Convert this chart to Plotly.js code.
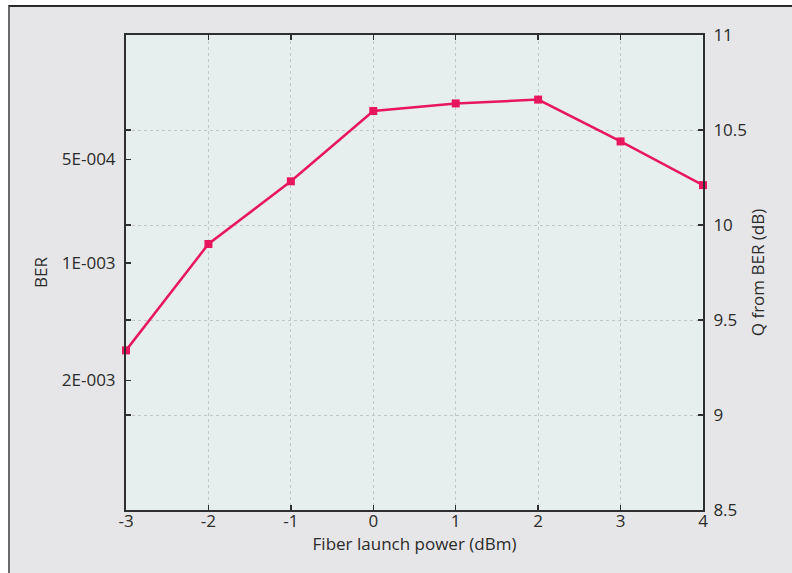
<!DOCTYPE html>
<html><head><meta charset="utf-8">
<script src="https://cdn.plot.ly/plotly-3.0.1.min.js"></script>
<style>
html,body{margin:0;padding:0;background:#fff;}
#wrap{position:absolute;left:8px;top:5px;width:784px;height:568px;border-left:2px solid #6a6a6a;border-top:2px solid #2a2a2a;box-sizing:border-box;background:#e6e6e8;}
#chart{width:782px;height:566px;}
</style></head>
<body><div id="wrap"><div id="chart"></div></div>
<script>
const powers = [-3, -2, -1, 0, 1, 2, 3, 4];
const powerLabels = ['-3', '-2', '-1', '0', '1', '2', '3', '4'];
const qdB = [9.34, 9.90, 10.23, 10.60, 10.64, 10.66, 10.44, 10.21];
const qTicks = [8.5, 9, 9.5, 10, 10.5, 11];
const qLabels = ['8.5', '9', '9.5', '10', '10.5', '11'];
const berLabels = ['2E-003', '1E-003', '5E-004'];
const berValues = [2e-3, 1e-3, 5e-4];

// Q (dB) from BER: Q = 20*log10(sqrt(2)*erfcinv(2*BER)) via inverse normal
function normInv(p){ // inverse of standard normal CDF, Acklam
  const a=[-3.969683028665376e+01,2.209460984245205e+02,-2.759285104469687e+02,1.383577518672690e+02,-3.066479806614716e+01,2.506628277459239e+00];
  const b=[-5.447609879822406e+01,1.615858368580409e+02,-1.556989798598866e+02,6.680131188771972e+01,-1.328068155288572e+01];
  const c=[-7.784894002430293e-03,-3.223964580411365e-01,-2.400758277161838e+00,-2.549732539343734e+00,4.374664141464968e+00,2.938163982698783e+00];
  const d=[7.784695709041462e-03,3.224671290700398e-01,2.445134137142996e+00,3.754408661907416e+00];
  const pl=0.02425;
  let q,r;
  if(p<pl){q=Math.sqrt(-2*Math.log(p));return (((((c[0]*q+c[1])*q+c[2])*q+c[3])*q+c[4])*q+c[5])/((((d[0]*q+d[1])*q+d[2])*q+d[3])*q+1);}
  if(p>1-pl){q=Math.sqrt(-2*Math.log(1-p));return -(((((c[0]*q+c[1])*q+c[2])*q+c[3])*q+c[4])*q+c[5])/((((d[0]*q+d[1])*q+d[2])*q+d[3])*q+1);}
  q=p-0.5;r=q*q;return (((((a[0]*r+a[1])*r+a[2])*r+a[3])*r+a[4])*r+a[5])*q/(((((b[0]*r+b[1])*r+b[2])*r+b[3])*r+b[4])*r+1);
}
const berPos = berValues.map(b => 20*Math.log10(normInv(1-b)));
const leftVals = qTicks.slice(1,5).concat(berPos);
const leftText = qTicks.slice(1,5).map(()=> '').concat(berLabels);

const font = {family:'"Open Sans", "Noto Sans", "Liberation Sans", sans-serif', size:17, color:'#2b2b2b'};
const lineCol = '#2f2f2f';

const data = [
  {x: powers, y: qdB, xaxis:'x', yaxis:'y', type:'scatter', mode:'lines+markers',
   line:{color:'#e8175d', width:2.5}, marker:{symbol:'square', size:8, color:'#e8175d'},
   cliponaxis:false, hoverinfo:'skip'},
  {x: powers, y: qdB, xaxis:'x', yaxis:'y2', type:'scatter', mode:'none', hoverinfo:'skip', showlegend:false}
];
const layout = {
  width:782, height:566,
  margin:{l:116, r:89, t:28, b:63},
  paper_bgcolor:'#e6e6e8', plot_bgcolor:'#e6efee',
  showlegend:false, font: font,
  xaxis:{range:[-3,4], tickvals:powers, ticktext:powerLabels, ticks:'inside', ticklen:5, tickcolor:lineCol, tickwidth:1.5,
         showline:true, linecolor:lineCol, linewidth:2, mirror:'ticks', ticklabelstandoff:-5,
         showgrid:true, gridcolor:'#c4c6c6', griddash:'dot', gridwidth:1, zeroline:false,
         tickfont:font, title:{text:'Fiber launch power (dBm)', font:font, standoff:0}},
  yaxis:{range:[8.5,11], tickvals:leftVals, ticktext:leftText, ticks:'inside', ticklen:5, tickcolor:lineCol, tickwidth:1.5,
         showline:true, linecolor:lineCol, linewidth:2, showgrid:false, zeroline:false, ticklabelstandoff:5,
         tickfont:font, title:{text:'BER', font:font, standoff:10}},
  yaxis2:{range:[8.5,11], overlaying:'y', side:'right', tickvals:qTicks, ticktext:qLabels,
         ticks:'inside', ticklen:5, tickcolor:lineCol, tickwidth:1.5,
         showline:true, linecolor:lineCol, linewidth:2, ticklabelstandoff:5,
         showgrid:true, gridcolor:'#c4c6c6', griddash:'dot', gridwidth:1, zeroline:false,
         tickfont:font, title:{text:'Q from BER (dB)', font:font, standoff:6}}
};
Plotly.newPlot('chart', data, layout, {displayModeBar:false, staticPlot:true});
</script></body></html>
